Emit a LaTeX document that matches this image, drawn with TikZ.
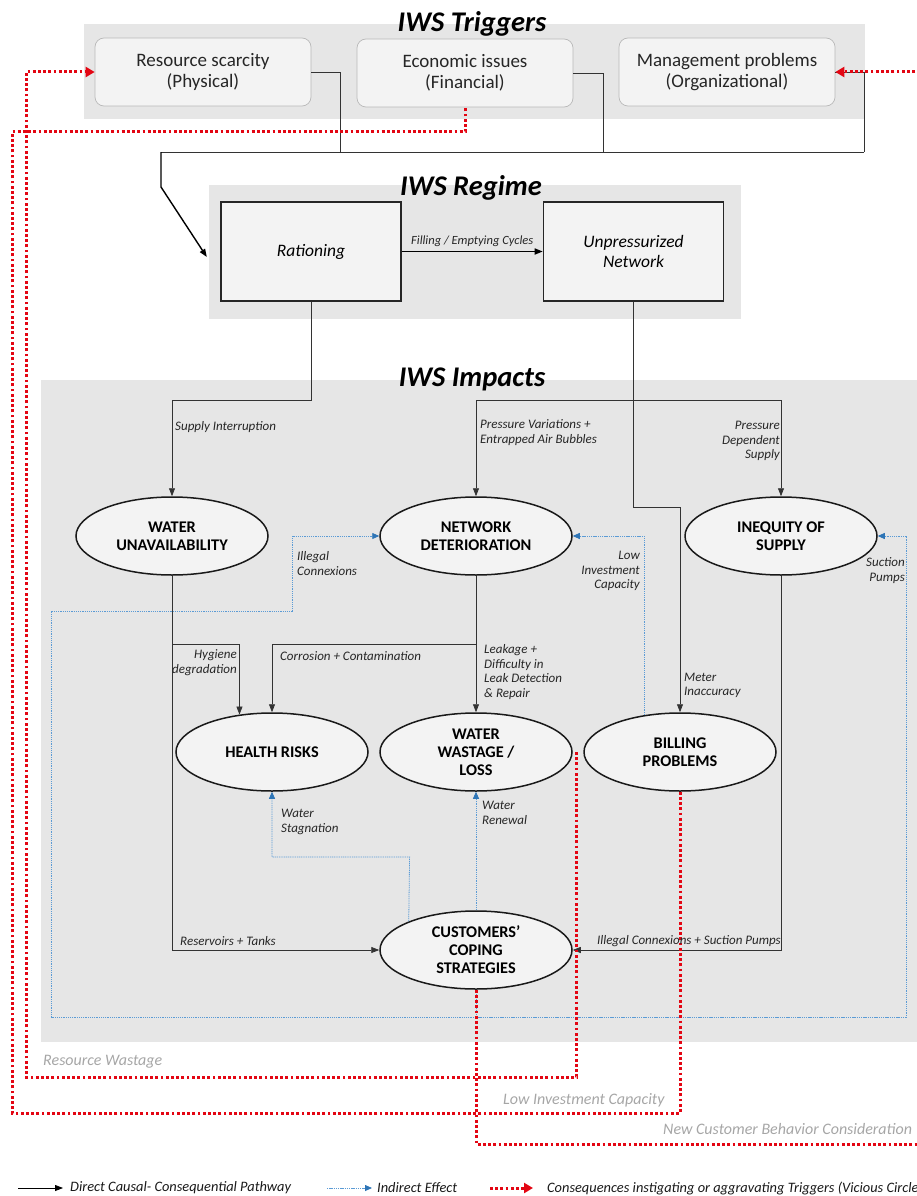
\documentclass[tikz,border=0pt]{standalone}
\usepackage{fontspec}
\setmainfont{Carlito}
\usetikzlibrary{arrows.meta,shapes.geometric}
\definecolor{bggray}{HTML}{E6E6E6}
\definecolor{boxfill}{HTML}{F3F3F3}
\definecolor{txt}{HTML}{262626}
\definecolor{softtxt}{HTML}{A6A6A6}
\definecolor{redc}{HTML}{E30613}
\definecolor{blueline}{HTML}{5B9BD5}
\definecolor{bluetip}{HTML}{2E75B6}
\begin{document}
\begin{tikzpicture}[x=1pt,y=-1pt,
  grp/.style={rectangle,fill=bggray,draw=none,inner sep=0pt},
  title/.style={font=\bfseries\itshape\fontsize{28.5}{30}\selectfont,inner sep=0pt,anchor=base},
  trig/.style={rectangle,draw=gray!55,line width=0.7pt,fill=boxfill,rounded corners=9pt,
    minimum width=216pt,minimum height=68pt,align=center,text=txt,
    font=\fontsize{19}{21}\selectfont},
  regbox/.style={rectangle,draw=black!85,line width=1.6pt,fill=boxfill,minimum width=180pt,
    minimum height=99pt,align=center,font=\itshape\fontsize{17.5}{20}\selectfont},
  ell/.style={ellipse,draw=black!90,line width=1.5pt,fill=boxfill,minimum width=192pt,
    minimum height=78pt,inner sep=0pt,align=center,font=\bfseries\fontsize{16.3}{18}\selectfont},
  lbl/.style={font=\itshape\fontsize{13}{14.5}\selectfont,text=txt,inner sep=0pt},
  softlbl/.style={font=\itshape\fontsize{16}{18}\selectfont,text=softtxt,inner sep=0pt,anchor=west},
  leg/.style={font=\itshape\fontsize{14.4}{16}\selectfont,text=black!90,inner sep=0pt,anchor=west},
  blk/.style={draw=black!80,line width=0.8pt},
  arr/.style={-{Triangle[length=8pt,width=6pt]}},
  blu/.style={draw=blueline,line width=0.8pt,dash pattern=on 1.3pt off 0.9pt,
    -{Triangle[length=7pt,width=6pt,fill=bluetip,color=bluetip]}},
  bluline/.style={draw=blueline,line width=0.8pt,dash pattern=on 1.3pt off 0.9pt},
  redl/.style={draw=redc,line width=3pt,dash pattern=on 2.8pt off 2.4pt},
  redarr/.style={-{Triangle[length=9pt,width=10pt]}}
]
\useasboundingbox (0,0) rectangle (917,1196);
\clip (0,0) rectangle (917,1196);

% group backgrounds
\node[grp,minimum width=781.4pt,minimum height=95pt] (trg) at (474.3,71.5) {};
\node[grp,minimum width=532pt,minimum height=134pt] (regime) at (475,252) {};
\node[grp,minimum width=889pt,minimum height=662pt] (imp) at (485.5,711) {};

% titles
\node[title] (ttrig) at (472,32) {IWS Triggers};
\node[title] (treg) at (471,195) {IWS Regime};
\node[title] (timp) at (472,386) {IWS Impacts};

% triggers
\node[trig] (rs) at (203,72) {Resource scarcity\\(Physical)};
\node[trig] (es) at (465,73) {Economic issues\\(Financial)};
\node[trig] (mp) at (727,72) {Management problems\\(Organizational)};

% regime
\node[regbox] (rat) at (311,251.5) {Rationing};
\node[regbox] (unp) at (633.5,251.5) {Unpressurized\\Network};

% impacts
\node[ell] (wu) at (172,536) {WATER\\UNAVAILABILITY};
\node[ell] (nd) at (476,536) {NETWORK\\DETERIORATION};
\node[ell] (ineq) at (781,536) {INEQUITY OF\\SUPPLY};
\node[ell] (hr) at (272,752) {HEALTH RISKS};
\node[ell] (ww) at (476,752) {WATER\\WASTAGE /\\LOSS};
\node[ell] (bp) at (680,752) {BILLING\\PROBLEMS};
\node[ell] (cs) at (476,950) {CUSTOMERS'\\COPING\\STRATEGIES};

% junction coordinates
\coordinate (jt) at (864,152);
\coordinate (j1) at (633.5,400);
\coordinate (j2) at (172,644);
\coordinate (j3) at (476,644);
\coordinate (b1) at (476,1017);

% triggers -> regime
\draw[blk] (rs.east) -- (340,72) -- (340,152);
\draw[blk] (es.east) -- (603,73) -- (603,152);
\draw[blk] (mp.east) -- (864,72) -- (jt);
\draw[blk] (jt) -- (161,152);
\draw[draw=black,line width=1.4pt,arr] (161,152) -- (161,187) -- ([xshift=-2pt,yshift=-5pt]regime.west);
\draw[draw=black,line width=1.6pt,arr] (rat.east) -- (unp.west)
  node[midway,above=4pt,font=\itshape\fontsize{12.5}{14}\selectfont,text=txt,inner sep=0pt] (fec) {Filling / Emptying Cycles};

% regime -> impacts
\draw[blk,arr] (rat.south) -- (311,400) -| (wu.north);
\draw[blk,arr] (unp.south) -- (633.5,507) -| (bp.north);
\draw[blk,arr] (j1) -| (nd.north);
\draw[blk,arr] (j1) -| (ineq.north);

% within impacts (direct)
\draw[blk,arr] (wu.south) |- (cs.west);
\draw[blk,arr] (j2) -| (hr.131);
\draw[blk,arr] (nd.south) -- (ww.north);
\draw[blk,arr] (j3) -| (hr.north);
\draw[blk,arr] (ineq.south) |- (cs.east);

% indirect (blue)
\draw[blu] (bp.134) |- (nd.east);
\draw[bluline] (cs.south) -- (b1);
\draw[blu] (b1) -| (51,611) -| (292,536) -- (nd.west);
\draw[blu] (b1) -| (906,536) -- (ineq.east);
\draw[blu] (cs.157) -- (409.6,857) -| (hr.south);
\draw[blu] (cs.north) -- (ww.south);

% vicious circle (red)
\draw[redl,redarr] ([xshift=4pt]ww.east) |- (26,1077) |- (rs.west);
\draw[redl] (bp.south) |- (12,1113) |- (465,132) -- (es.south);
\draw[redl,redarr] (cs.south) |- (930,1144) |- (mp.east);

% labels
\node[lbl,anchor=west] (l1) at (175,427) {Supply Interruption};
\node[lbl,anchor=west,align=left] (l2) at (480,432.5) {Pressure Variations +\\Entrapped Air Bubbles};
\node[lbl,anchor=east,align=right] (l3) at (780,441) {Pressure\\Dependent\\Supply};
\node[lbl,anchor=west,align=left] (l4) at (297,563.5) {Illegal\\Connexions};
\node[lbl,anchor=east,align=right] (l5) at (640,571) {Low\\Investment\\Capacity};
\node[lbl,anchor=east,align=right] (l6) at (905,570.5) {Suction\\Pumps};
\node[lbl,anchor=east,align=right] (l7) at (237,662.5) {Hygiene\\degradation};
\node[lbl,anchor=west] (l8) at (280,656) {Corrosion + Contamination};
\node[lbl,anchor=west,align=left] (l9) at (484,672) {Leakage +\\Difficulty in\\Leak Detection\\\& Repair};
\node[lbl,anchor=west,align=left] (l10) at (684,685.5) {Meter\\Inaccuracy};
\node[lbl,anchor=west,align=left] (l11) at (281,822) {Water\\Stagnation};
\node[lbl,anchor=west,align=left] (l12) at (482,813) {Water\\Renewal};
\node[lbl,anchor=west] (l13) at (180,941) {Reservoirs + Tanks};
\node[lbl,anchor=east] (l14) at (781,941) {Illegal Connexions + Suction Pumps};

\node[softlbl] (s1) at (43,1062) {Resource Wastage};
\node[softlbl] (s2) at (503,1100) {Low Investment Capacity};
\node[softlbl] (s3) at (663,1129) {New Customer Behavior Consideration};

% legend
\coordinate (la1) at (18,1188); \coordinate (la2) at (63,1188);
\coordinate (lb1) at (327,1188); \coordinate (lb2) at (372,1188);
\coordinate (lc1) at (490,1188); \coordinate (lc2) at (533,1188);
\draw[draw=black,line width=0.8pt,arr] (la1) -- (la2);
\draw[blu] (lb1) -- (lb2);
\draw[redl,redarr] (lc1) -- (lc2);
\node[leg] (g1) at (70,1188) {Direct Causal- Consequential Pathway};
\node[leg] (g2) at (377,1188) {Indirect Effect};
\node[leg] (g3) at (547,1188) {Consequences instigating or aggravating Triggers (Vicious Circle};
\end{tikzpicture}
\end{document}
